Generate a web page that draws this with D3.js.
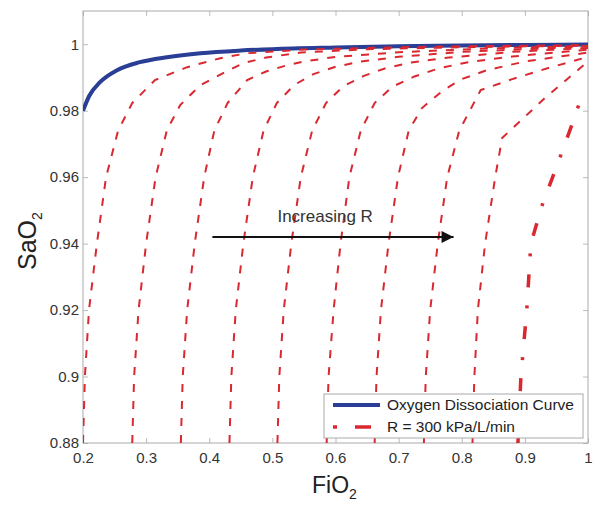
<!DOCTYPE html>
<html>
<head>
<meta charset="utf-8">
<script src="https://cdn.jsdelivr.net/npm/d3@7"></script>
<style>
	body { margin: 0; background: #fff; }
	svg { display: block; }
</style>
</head>
<body>
<svg id="chart" width="600" height="512"></svg>
<script>
// Tick values
const fio2Ticks = [0.2, 0.3, 0.4, 0.5, 0.6, 0.7, 0.8, 0.9, 1];
const sao2Ticks = [0.88, 0.9, 0.92, 0.94, 0.96, 0.98, 1];

// Oxygen dissociation curve [FiO2, SaO2]
const odc = [
	[0.2, 0.98], [0.21, 0.9845], [0.227, 0.9886], [0.254, 0.9922], [0.29, 0.9946],
	[0.333, 0.9961], [0.386, 0.9973], [0.45, 0.9981], [0.5, 0.9985], [0.6, 0.999],
	[0.7, 0.9994], [0.8, 0.9996], [0.9, 0.9998], [1.0, 0.9999],
];

// Iso-R curves (R increasing left to right)
const r1 = [[0.2, 0.88], [0.203, 0.9], [0.2095, 0.92], [0.222, 0.94], [0.2365, 0.96], [0.2556, 0.974], [0.278, 0.9823], [0.314, 0.9892], [0.365, 0.9931], [0.4175, 0.9958], [0.46, 0.9973], [0.55, 0.9984], [0.7, 0.9991], [0.85, 0.9995], [1.0, 0.9997]];
const r2 = [[0.278, 0.88], [0.281, 0.9], [0.288, 0.92], [0.3, 0.94], [0.315, 0.96], [0.333, 0.9742], [0.354, 0.9817], [0.386, 0.9877], [0.422, 0.9913], [0.454, 0.9943], [0.49, 0.996], [0.545, 0.9975], [0.65, 0.9985], [0.8, 0.9991], [1.0, 0.9996]];
const r3 = [[0.355, 0.88], [0.358, 0.9], [0.365, 0.92], [0.377, 0.94], [0.392, 0.96], [0.408, 0.974], [0.429, 0.9823], [0.46, 0.9892], [0.49, 0.9918], [0.52, 0.9935], [0.55, 0.9948], [0.6, 0.9962], [0.7, 0.9976], [0.85, 0.9988], [1.0, 0.9995]];
const r4 = [[0.432, 0.88], [0.435, 0.9], [0.442, 0.92], [0.454, 0.94], [0.469, 0.96], [0.486, 0.974], [0.507, 0.9823], [0.535, 0.9878], [0.565, 0.991], [0.6, 0.9932], [0.64, 0.9948], [0.7, 0.9962], [0.8, 0.9977], [1.0, 0.9993]];
const r5 = [[0.508, 0.88], [0.511, 0.9], [0.518, 0.92], [0.53, 0.94], [0.545, 0.96], [0.563, 0.974], [0.585, 0.9823], [0.612, 0.9873], [0.645, 0.9905], [0.68, 0.9928], [0.72, 0.9945], [0.78, 0.996], [0.88, 0.9977], [1.0, 0.9989]];
const r6 = [[0.586, 0.88], [0.589, 0.9], [0.597, 0.92], [0.608, 0.94], [0.622, 0.96], [0.64, 0.974], [0.662, 0.9823], [0.69, 0.9872], [0.725, 0.9903], [0.765, 0.9928], [0.81, 0.9946], [0.88, 0.9963], [1.0, 0.9984]];
const r7 = [[0.662, 0.88], [0.665, 0.9], [0.672, 0.92], [0.684, 0.94], [0.699, 0.96], [0.716, 0.974], [0.737, 0.9808], [0.771, 0.9862], [0.8, 0.9895], [0.84, 0.9922], [0.9, 0.9948], [1.0, 0.9975]];
const r8 = [[0.74, 0.88], [0.743, 0.9], [0.75, 0.92], [0.762, 0.94], [0.777, 0.96], [0.796, 0.974], [0.83, 0.9862], [0.88, 0.9895], [0.94, 0.993], [1.0, 0.9962]];
const r9 = [[0.817, 0.88], [0.82, 0.9], [0.8255, 0.92], [0.837, 0.94], [0.853, 0.96], [0.864, 0.9718], [0.93, 0.9835], [1.0, 0.9948]];
const dashedCurves = [r1, r2, r3, r4, r5, r6, r7, r8, r9];

// R = 300 kPa/L/min
const r300 = [[0.889, 0.88], [0.8937, 0.9], [0.903, 0.92], [0.9095, 0.94], [0.9286, 0.9523], [0.944, 0.96], [0.96, 0.9682], [0.973, 0.975], [0.988, 0.9832], [0.994, 0.9853]];

const legendLabels = ["Oxygen Dissociation Curve", "R = 300 kPa/L/min"];

const blue = "#2b3e96";
const red = "#d92830";

const svg = d3.select("#chart");
const margin = { top: 11, right: 12, bottom: 69, left: 83 };
const width = 600 - margin.left - margin.right;
const height = 512 - margin.top - margin.bottom;

const x = d3.scaleLinear().domain([0.2, 1]).range([0, width]);
const y = d3.scaleLinear().domain([0.88, 1.01]).range([height, 0]);

const g = svg.append("g").attr("transform", `translate(${margin.left},${margin.top})`);

g.append("defs").append("clipPath").attr("id", "clip")
	.append("rect").attr("width", width).attr("height", height);

// Axes (ticks inward, on all four sides)
const fmt = (d) => d3.format("")(+d.toFixed(2));
const tickFont = "15px 'Liberation Sans', Arial, sans-serif";

const xAxis = g.append("g").attr("transform", `translate(0,${height})`)
	.call(d3.axisBottom(x).tickValues(fio2Ticks).tickFormat(fmt).tickSizeInner(-5).tickSizeOuter(0).tickPadding(9));
const xTop = g.append("g")
	.call(d3.axisTop(x).tickValues(fio2Ticks).tickFormat("").tickSizeInner(-5).tickSizeOuter(0));
const yAxis = g.append("g")
	.call(d3.axisLeft(y).tickValues(sao2Ticks).tickFormat(fmt).tickSizeInner(-5).tickSizeOuter(0).tickPadding(4));
const yRight = g.append("g").attr("transform", `translate(${width},0)`)
	.call(d3.axisRight(y).tickValues(sao2Ticks).tickFormat("").tickSizeInner(-5).tickSizeOuter(0));

[xAxis, xTop, yAxis, yRight].forEach((a) => {
	a.select(".domain").remove();
	a.selectAll("line").attr("stroke", "#bbb");
	a.selectAll("text").style("font", tickFont).attr("fill", "#333");
});

g.append("rect").attr("width", width).attr("height", height)
	.attr("fill", "none").attr("stroke", "#aaa").attr("stroke-width", 1);

// Curves
const line = d3.line().x((d) => x(d[0])).y((d) => y(d[1])).curve(d3.curveLinear);
const plot = g.append("g").attr("clip-path", "url(#clip)");

plot.append("path").datum(odc)
	.attr("d", line.curve(d3.curveMonotoneX))
	.attr("fill", "none").attr("stroke", blue).attr("stroke-width", 4);
line.curve(d3.curveLinear);

plot.selectAll(".iso").data(dashedCurves).join("path")
	.attr("class", "iso")
	.attr("d", line)
	.attr("fill", "none").attr("stroke", red).attr("stroke-width", 2)
	.attr("stroke-dasharray", "8,9");

plot.append("path").datum(r300)
	.attr("d", line)
	.attr("fill", "none").attr("stroke", red).attr("stroke-width", 3.5)
	.attr("stroke-dasharray", "13,18,3,18");

// Annotation arrow
const arrowY = 0.942;
g.append("defs").append("marker").attr("id", "head")
	.attr("viewBox", "0 0 10 10").attr("refX", 10).attr("refY", 5)
	.attr("markerWidth", 8).attr("markerHeight", 6).attr("markerUnits", "strokeWidth")
	.attr("orient", "auto")
	.append("path").attr("d", "M0,0L10,5L0,10z").attr("fill", "#111");
g.append("line")
	.attr("x1", x(0.405)).attr("x2", x(0.787))
	.attr("y1", y(arrowY)).attr("y2", y(arrowY))
	.attr("stroke", "#111").attr("stroke-width", 2).attr("marker-end", "url(#head)");
g.append("text").attr("x", x(0.508)).attr("y", y(0.9465))
	.style("font", "17px 'Liberation Sans', Arial, sans-serif").attr("fill", "#333")
	.text("Increasing R");

// Legend
const legend = g.append("g").attr("transform", `translate(${x(0.2) + 241},${383})`);
legend.append("rect").attr("width", 259).attr("height", 44)
	.attr("fill", "#fff").attr("stroke", "#aaa");
legend.append("line").attr("x1", 9).attr("x2", 56).attr("y1", 11).attr("y2", 11)
	.attr("stroke", blue).attr("stroke-width", 4);
legend.append("line").attr("x1", 9).attr("x2", 56).attr("y1", 33).attr("y2", 33)
	.attr("stroke", red).attr("stroke-width", 3.5).attr("stroke-dasharray", "4,18,16,20");
legend.selectAll("text").data(legendLabels).join("text")
	.attr("x", 63).attr("y", (d, i) => 16 + i * 22)
	.style("font", "15.5px 'Liberation Sans', Arial, sans-serif").attr("fill", "#222")
	.text((d) => d);

// Axis titles
const titleFont = "23px 'Liberation Sans', Arial, sans-serif";
const xt = svg.append("text").attr("x", 312).attr("y", 493).style("font", titleFont).attr("fill", "#222");
xt.append("tspan").text("FiO");
xt.append("tspan").attr("dy", 6).style("font-size", "14px").text("2");

const yt = svg.append("text").attr("transform", "translate(36,270) rotate(-90)")
	.style("font", "25px 'Liberation Sans', Arial, sans-serif").attr("fill", "#222");
yt.append("tspan").text("SaO");
yt.append("tspan").attr("dy", 6).style("font-size", "14px").text("2");
</script>
</body>
</html>
